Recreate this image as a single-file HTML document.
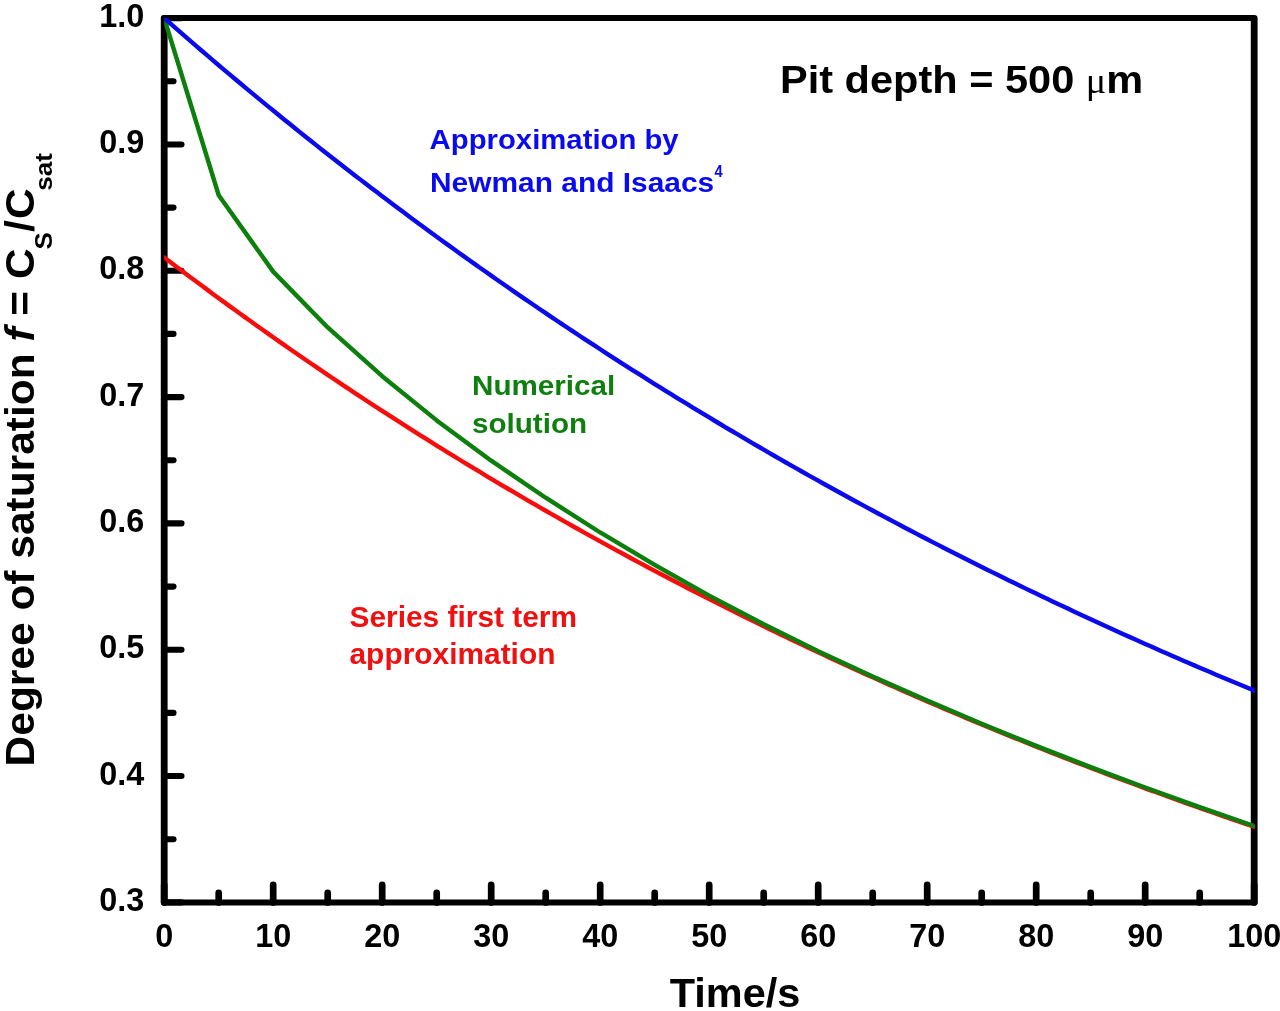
<!DOCTYPE html>
<html lang="en">
<head>
<meta charset="utf-8">
<title>Degree of saturation vs time</title>
<style>
html,body{margin:0;padding:0;background:#fff;}
body{width:1280px;height:1011px;overflow:hidden;}
svg{display:block;filter:blur(0.55px);}
text{font-family:"Liberation Sans",Arial,Helvetica,sans-serif;font-weight:bold;}
/*tick labels*/.tl text{font-size:32.4px;fill:#000;}
</style>
</head>
<body>
<svg width="1280" height="1011" viewBox="0 0 1280 1011">
<rect x="0" y="0" width="1280" height="1011" fill="#fff"/>
<!-- frame -->
<g transform="scale(1.13333 1)"><rect x="144.88" y="18.10" width="961.76" height="884.30" fill="none" stroke="#000" stroke-width="6.0" stroke-linejoin="round"/></g>
<g stroke="#000" stroke-width="6.1" stroke-linecap="round">
<line x1="164.20" y1="902.40" x2="181.50" y2="902.40"/>
<line x1="164.20" y1="839.24" x2="173.50" y2="839.24"/>
<line x1="164.20" y1="776.07" x2="181.50" y2="776.07"/>
<line x1="164.20" y1="712.91" x2="173.50" y2="712.91"/>
<line x1="164.20" y1="649.74" x2="181.50" y2="649.74"/>
<line x1="164.20" y1="586.58" x2="173.50" y2="586.58"/>
<line x1="164.20" y1="523.41" x2="181.50" y2="523.41"/>
<line x1="164.20" y1="460.25" x2="173.50" y2="460.25"/>
<line x1="164.20" y1="397.09" x2="181.50" y2="397.09"/>
<line x1="164.20" y1="333.92" x2="173.50" y2="333.92"/>
<line x1="164.20" y1="270.76" x2="181.50" y2="270.76"/>
<line x1="164.20" y1="207.59" x2="173.50" y2="207.59"/>
<line x1="164.20" y1="144.43" x2="181.50" y2="144.43"/>
<line x1="164.20" y1="81.26" x2="173.50" y2="81.26"/>
<line x1="164.20" y1="18.10" x2="181.50" y2="18.10"/>
</g>
<g stroke="#000" stroke-width="6.7" stroke-linecap="round">
<line x1="164.20" y1="902.40" x2="164.20" y2="884.90"/>
<line x1="218.70" y1="902.40" x2="218.70" y2="892.90"/>
<line x1="273.20" y1="902.40" x2="273.20" y2="884.90"/>
<line x1="327.70" y1="902.40" x2="327.70" y2="892.90"/>
<line x1="382.20" y1="902.40" x2="382.20" y2="884.90"/>
<line x1="436.70" y1="902.40" x2="436.70" y2="892.90"/>
<line x1="491.20" y1="902.40" x2="491.20" y2="884.90"/>
<line x1="545.70" y1="902.40" x2="545.70" y2="892.90"/>
<line x1="600.20" y1="902.40" x2="600.20" y2="884.90"/>
<line x1="654.70" y1="902.40" x2="654.70" y2="892.90"/>
<line x1="709.20" y1="902.40" x2="709.20" y2="884.90"/>
<line x1="763.70" y1="902.40" x2="763.70" y2="892.90"/>
<line x1="818.20" y1="902.40" x2="818.20" y2="884.90"/>
<line x1="872.70" y1="902.40" x2="872.70" y2="892.90"/>
<line x1="927.20" y1="902.40" x2="927.20" y2="884.90"/>
<line x1="981.70" y1="902.40" x2="981.70" y2="892.90"/>
<line x1="1036.20" y1="902.40" x2="1036.20" y2="884.90"/>
<line x1="1090.70" y1="902.40" x2="1090.70" y2="892.90"/>
<line x1="1145.20" y1="902.40" x2="1145.20" y2="884.90"/>
<line x1="1199.70" y1="902.40" x2="1199.70" y2="892.90"/>
<line x1="1254.20" y1="902.40" x2="1254.20" y2="884.90"/>
</g>
<!-- curves -->
<clipPath id="plotclip"><rect x="164.20" y="18.10" width="1090.60" height="884.30"/></clipPath>
<g fill="none" stroke-width="4.4" stroke-linejoin="round" stroke-linecap="round" clip-path="url(#plotclip)">
<path stroke="#f80d0d" d="M164.20 257.40 L169.65 261.55 L175.10 265.69 L180.55 269.80 L186.00 273.90 L191.45 277.98 L196.90 282.05 L202.35 286.10 L207.80 290.13 L213.25 294.15 L218.70 298.15 L224.15 302.13 L229.60 306.10 L235.05 310.05 L240.50 313.98 L245.95 317.90 L251.40 321.81 L256.85 325.70 L262.30 329.57 L267.75 333.42 L273.20 337.27 L278.65 341.09 L284.10 344.90 L289.55 348.70 L295.00 352.47 L300.45 356.24 L305.90 359.99 L311.35 363.72 L316.80 367.44 L322.25 371.14 L327.70 374.83 L333.15 378.50 L338.60 382.16 L344.05 385.80 L349.50 389.43 L354.95 393.05 L360.40 396.65 L365.85 400.23 L371.30 403.80 L376.75 407.36 L382.20 410.90 L387.65 414.43 L393.10 417.94 L398.55 421.44 L404.00 424.92 L409.45 428.39 L414.90 431.85 L420.35 435.29 L425.80 438.72 L431.25 442.13 L436.70 445.53 L442.15 448.92 L447.60 452.29 L453.05 455.65 L458.50 459.00 L463.95 462.33 L469.40 465.65 L474.85 468.95 L480.30 472.24 L485.75 475.52 L491.20 478.79 L496.65 482.04 L502.10 485.28 L507.55 488.50 L513.00 491.72 L518.45 494.92 L523.90 498.10 L529.35 501.28 L534.80 504.44 L540.25 507.59 L545.70 510.72 L551.15 513.84 L556.60 516.95 L562.05 520.05 L567.50 523.14 L572.95 526.21 L578.40 529.27 L583.85 532.32 L589.30 535.35 L594.75 538.37 L600.20 541.38 L605.65 544.38 L611.10 547.37 L616.55 550.34 L622.00 553.30 L627.45 556.25 L632.90 559.19 L638.35 562.12 L643.80 565.03 L649.25 567.94 L654.70 570.83 L660.15 573.70 L665.60 576.57 L671.05 579.43 L676.50 582.27 L681.95 585.10 L687.40 587.93 L692.85 590.74 L698.30 593.53 L703.75 596.32 L709.20 599.10 L714.65 601.86 L720.10 604.61 L725.55 607.36 L731.00 610.09 L736.45 612.81 L741.90 615.52 L747.35 618.21 L752.80 620.90 L758.25 623.58 L763.70 626.24 L769.15 628.90 L774.60 631.54 L780.05 634.17 L785.50 636.80 L790.95 639.41 L796.40 642.01 L801.85 644.60 L807.30 647.18 L812.75 649.75 L818.20 652.31 L823.65 654.86 L829.10 657.40 L834.55 659.92 L840.00 662.44 L845.45 664.95 L850.90 667.45 L856.35 669.94 L861.80 672.41 L867.25 674.88 L872.70 677.34 L878.15 679.79 L883.60 682.22 L889.05 684.65 L894.50 687.07 L899.95 689.48 L905.40 691.87 L910.85 694.26 L916.30 696.64 L921.75 699.01 L927.20 701.37 L932.65 703.72 L938.10 706.06 L943.55 708.39 L949.00 710.71 L954.45 713.03 L959.90 715.33 L965.35 717.62 L970.80 719.91 L976.25 722.18 L981.70 724.45 L987.15 726.70 L992.60 728.95 L998.05 731.19 L1003.50 733.42 L1008.95 735.64 L1014.40 737.85 L1019.85 740.05 L1025.30 742.25 L1030.75 744.43 L1036.20 746.61 L1041.65 748.77 L1047.10 750.93 L1052.55 753.08 L1058.00 755.22 L1063.45 757.35 L1068.90 759.48 L1074.35 761.59 L1079.80 763.70 L1085.25 765.80 L1090.70 767.88 L1096.15 769.96 L1101.60 772.04 L1107.05 774.10 L1112.50 776.16 L1117.95 778.20 L1123.40 780.24 L1128.85 782.27 L1134.30 784.29 L1139.75 786.31 L1145.20 788.31 L1150.65 790.31 L1156.10 792.30 L1161.55 794.28 L1167.00 796.26 L1172.45 798.22 L1177.90 800.18 L1183.35 802.13 L1188.80 804.07 L1194.25 806.01 L1199.70 807.93 L1205.15 809.85 L1210.60 811.76 L1216.05 813.66 L1221.50 815.56 L1226.95 817.45 L1232.40 819.33 L1237.85 821.20 L1243.30 823.06 L1248.75 824.92 L1254.20 826.77"/>
<path stroke="#0c7f0c" d="M164.20 18.10 L218.70 195.27 L273.20 271.64 L327.70 327.48 L382.20 376.22 L436.70 420.40 L491.20 460.69 L545.70 497.70 L600.20 532.48 L654.70 564.81 L709.20 595.64 L763.70 624.20 L818.20 651.14 L872.70 676.58 L927.20 700.61 L981.70 723.69 L1036.20 745.85 L1090.70 767.13 L1145.20 787.56 L1199.70 807.17 L1254.20 826.01"/>
<path stroke="#0a0aec" d="M164.20 18.10 L169.65 22.89 L175.10 27.66 L180.55 32.42 L186.00 37.16 L191.45 41.88 L196.90 46.58 L202.35 51.26 L207.80 55.93 L213.25 60.57 L218.70 65.20 L224.15 69.82 L229.60 74.41 L235.05 78.99 L240.50 83.55 L245.95 88.09 L251.40 92.62 L256.85 97.13 L262.30 101.62 L267.75 106.09 L273.20 110.55 L278.65 114.99 L284.10 119.42 L289.55 123.82 L295.00 128.21 L300.45 132.59 L305.90 136.95 L311.35 141.29 L316.80 145.61 L322.25 149.92 L327.70 154.21 L333.15 158.48 L338.60 162.74 L344.05 166.99 L349.50 171.21 L354.95 175.42 L360.40 179.62 L365.85 183.80 L371.30 187.96 L376.75 192.11 L382.20 196.24 L387.65 200.35 L393.10 204.45 L398.55 208.54 L404.00 212.61 L409.45 216.66 L414.90 220.70 L420.35 224.72 L425.80 228.73 L431.25 232.72 L436.70 236.70 L442.15 240.66 L447.60 244.61 L453.05 248.54 L458.50 252.46 L463.95 256.36 L469.40 260.25 L474.85 264.12 L480.30 267.98 L485.75 271.82 L491.20 275.65 L496.65 279.47 L502.10 283.27 L507.55 287.05 L513.00 290.82 L518.45 294.58 L523.90 298.32 L529.35 302.05 L534.80 305.77 L540.25 309.47 L545.70 313.15 L551.15 316.83 L556.60 320.48 L562.05 324.13 L567.50 327.76 L572.95 331.38 L578.40 334.98 L583.85 338.57 L589.30 342.15 L594.75 345.71 L600.20 349.26 L605.65 352.79 L611.10 356.31 L616.55 359.82 L622.00 363.32 L627.45 366.80 L632.90 370.27 L638.35 373.72 L643.80 377.17 L649.25 380.60 L654.70 384.01 L660.15 387.42 L665.60 390.81 L671.05 394.18 L676.50 397.55 L681.95 400.90 L687.40 404.24 L692.85 407.57 L698.30 410.88 L703.75 414.18 L709.20 417.47 L714.65 420.75 L720.10 424.01 L725.55 427.27 L731.00 430.51 L736.45 433.73 L741.90 436.95 L747.35 440.15 L752.80 443.34 L758.25 446.52 L763.70 449.69 L769.15 452.84 L774.60 455.98 L780.05 459.11 L785.50 462.23 L790.95 465.34 L796.40 468.43 L801.85 471.52 L807.30 474.59 L812.75 477.65 L818.20 480.70 L823.65 483.73 L829.10 486.76 L834.55 489.77 L840.00 492.78 L845.45 495.77 L850.90 498.75 L856.35 501.72 L861.80 504.67 L867.25 507.62 L872.70 510.55 L878.15 513.48 L883.60 516.39 L889.05 519.29 L894.50 522.18 L899.95 525.06 L905.40 527.93 L910.85 530.79 L916.30 533.63 L921.75 536.47 L927.20 539.30 L932.65 542.11 L938.10 544.91 L943.55 547.71 L949.00 550.49 L954.45 553.26 L959.90 556.02 L965.35 558.77 L970.80 561.52 L976.25 564.25 L981.70 566.97 L987.15 569.68 L992.60 572.37 L998.05 575.06 L1003.50 577.74 L1008.95 580.41 L1014.40 583.07 L1019.85 585.72 L1025.30 588.36 L1030.75 590.99 L1036.20 593.60 L1041.65 596.21 L1047.10 598.81 L1052.55 601.40 L1058.00 603.98 L1063.45 606.55 L1068.90 609.11 L1074.35 611.66 L1079.80 614.20 L1085.25 616.73 L1090.70 619.25 L1096.15 621.76 L1101.60 624.26 L1107.05 626.75 L1112.50 629.24 L1117.95 631.71 L1123.40 634.18 L1128.85 636.63 L1134.30 639.08 L1139.75 641.51 L1145.20 643.94 L1150.65 646.36 L1156.10 648.76 L1161.55 651.16 L1167.00 653.55 L1172.45 655.94 L1177.90 658.31 L1183.35 660.67 L1188.80 663.03 L1194.25 665.37 L1199.70 667.71 L1205.15 670.03 L1210.60 672.35 L1216.05 674.66 L1221.50 676.96 L1226.95 679.26 L1232.40 681.54 L1237.85 683.82 L1243.30 686.08 L1248.75 688.34 L1254.20 690.59"/>
</g>
<g class="tl">
<text x="144.3" y="911.0" text-anchor="end">0.3</text>
<text x="144.3" y="784.7" text-anchor="end">0.4</text>
<text x="144.3" y="658.3" text-anchor="end">0.5</text>
<text x="144.3" y="532.0" text-anchor="end">0.6</text>
<text x="144.3" y="405.7" text-anchor="end">0.7</text>
<text x="144.3" y="279.4" text-anchor="end">0.8</text>
<text x="144.3" y="153.0" text-anchor="end">0.9</text>
<text x="144.3" y="26.7" text-anchor="end">1.0</text>
<text x="164.2" y="946.8" text-anchor="middle">0</text>
<text x="273.2" y="946.8" text-anchor="middle">10</text>
<text x="382.2" y="946.8" text-anchor="middle">20</text>
<text x="491.2" y="946.8" text-anchor="middle">30</text>
<text x="600.2" y="946.8" text-anchor="middle">40</text>
<text x="709.2" y="946.8" text-anchor="middle">50</text>
<text x="818.2" y="946.8" text-anchor="middle">60</text>
<text x="927.2" y="946.8" text-anchor="middle">70</text>
<text x="1036.2" y="946.8" text-anchor="middle">80</text>
<text x="1145.2" y="946.8" text-anchor="middle">90</text>
<text x="1254.2" y="946.8" text-anchor="middle">100</text>
</g>
<!-- annotations -->
<text transform="translate(780.00 92.80) scale(1.0600 1)" font-size="39.20" fill="#000">Pit depth = 500 <tspan font-family="'Liberation Serif','DejaVu Serif',serif" font-weight="normal" font-size="36">μ</tspan>m</text>
<g fill="#0a0af0">
<text transform="translate(429.60 149.00) scale(1.0660 1)" font-size="27.50" >Approximation by</text>
<text transform="translate(430.00 192.00) scale(1.0880 1)" font-size="27.50" >Newman and Isaacs</text>
<text transform="translate(714.60 177.40) scale(0.9000 1)" font-size="16.30" >4</text>
</g>
<g fill="#0f800f">
<text transform="translate(472.00 394.80) scale(1.0500 1)" font-size="28.20" >Numerical</text>
<text transform="translate(472.00 433.00) scale(1.0500 1)" font-size="28.20" >solution</text>
</g>
<g fill="#f01010">
<text transform="translate(349.50 626.50) scale(1.0450 1)" font-size="28.60" >Series first term</text>
<text transform="translate(349.50 663.50) scale(1.0450 1)" font-size="28.60" >approximation</text>
</g>
<text transform="translate(735.00 1006.60) scale(1.0420 1)" font-size="39.80" text-anchor="middle" fill="#000">Time/s</text>
<text transform="translate(33.8 766.4) rotate(-90) scale(1.062 1)" font-size="40" fill="#000">Degree of saturation <tspan font-style="italic">f</tspan> = C<tspan font-size="24.5" dy="18" dx="-1">S</tspan><tspan dy="-18" dx="0">/</tspan><tspan dx="1.3">C</tspan><tspan font-size="24.5" dy="18" dx="-2.3">sat</tspan></text>
</svg>
</body>
</html>
